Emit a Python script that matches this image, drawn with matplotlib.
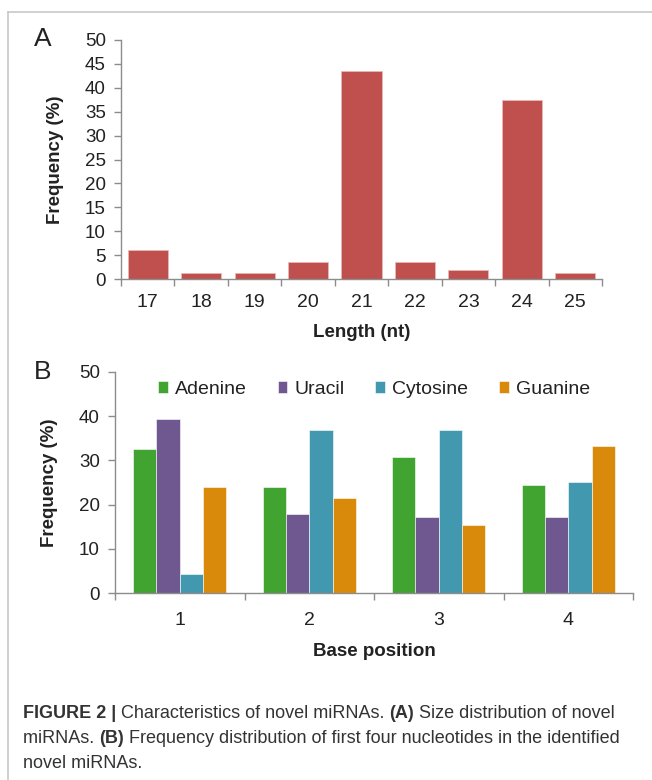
import matplotlib
matplotlib.use("Agg")
import matplotlib.pyplot as plt
import numpy as np
from matplotlib.lines import Line2D

# panel A: size distribution
lengths = ["17", "18", "19", "20", "21", "22", "23", "24", "25"]
length_freq = [6.1, 1.2, 1.2, 3.6, 43.6, 3.6, 1.9, 37.4, 1.2]

# panel B: first four nucleotides
positions = ["1", "2", "3", "4"]
adenine = [32.6, 23.9, 30.7, 24.5]
uracil = [39.3, 17.8, 17.1, 17.1]
cytosine = [4.2, 36.8, 36.8, 25.2]
guanine = [23.9, 21.5, 15.3, 33.2]

bases = ["Adenine", "Uracil", "Cytosine", "Guanine"]
base_colors = ["#41a431", "#6f588f", "#4298af", "#d98a0a"]

narrow = ["Liberation Sans Narrow", "Liberation Sans", "DejaVu Sans"]
plain = ["Liberation Sans", "DejaVu Sans"]
axis_grey = "#8c8c8c"
txt = "#222222"

fig = plt.figure(figsize=(6.52, 7.80), dpi=100)

# frame lines round the figure panel
fig.add_artist(Line2D([8 / 652, 8 / 652], [0, 1 - 12 / 780], transform=fig.transFigure,
                      color="#c8c8c8", lw=1.2))
fig.add_artist(Line2D([8 / 652, 1], [1 - 12 / 780, 1 - 12 / 780], transform=fig.transFigure,
                      color="#c8c8c8", lw=1.2))


def style_axes(ax, xpad):
    for s in ["top", "right"]:
        ax.spines[s].set_visible(False)
    for s in ["left", "bottom"]:
        ax.spines[s].set_color(axis_grey)
        ax.spines[s].set_linewidth(1.0)
    ax.tick_params(axis="y", colors=axis_grey, length=5, width=1.0, labelcolor=txt,
                   labelsize=13.5, pad=6)
    ax.tick_params(axis="x", which="major", colors=axis_grey, length=5, width=1.0)
    ax.tick_params(axis="x", which="minor", length=0, pad=xpad, labelcolor=txt)
    for lab in ax.get_yticklabels():
        lab.set_family(narrow)


# ---- panel A ----
axA = fig.add_axes([121 / 652, 1 - 279 / 780, (602 - 121) / 652, 239 / 780])
xa = np.arange(len(lengths))
axA.bar(xa, length_freq, width=0.75, color="#c0504d", edgecolor="#e8b8b6", linewidth=0.6)
axA.set_xlim(-0.5, len(lengths) - 0.5)
axA.set_ylim(0, 50)
axA.set_yticks(range(0, 51, 5))
axA.set_xticks(np.arange(-0.5, len(lengths), 1.0))
axA.set_xticklabels([])
axA.set_xticks(xa, minor=True)
axA.set_xticklabels(lengths, minor=True, family=narrow, fontsize=14, color=txt)
style_axes(axA, 11)
axA.set_ylabel("Frequency (%)", fontsize=13.5, fontweight="bold", color=txt, family=plain,
               labelpad=15)
axA.set_xlabel("Length (nt)", fontsize=13.5, fontweight="bold", color=txt, family=plain,
               labelpad=9)

# ---- panel B ----
axB = fig.add_axes([115 / 652, 1 - 593 / 780, (633 - 115) / 652, 221 / 780])
xb = np.arange(len(positions))
bw = 0.18
series = [adenine, uracil, cytosine, guanine]
for i, (name, vals, col) in enumerate(zip(bases, series, base_colors)):
    axB.bar(xb + (i - 1.5) * bw, vals, width=bw, color=col, label=name,
            edgecolor="white", linewidth=0.4)
axB.set_xlim(-0.5, len(positions) - 0.5)
axB.set_ylim(0, 50)
axB.set_yticks(range(0, 51, 10))
axB.set_xticks(np.arange(-0.5, len(positions), 1.0))
axB.set_xticklabels([])
axB.set_xticks(xb, minor=True)
axB.set_xticklabels(positions, minor=True, family=narrow, fontsize=14, color=txt)
style_axes(axB, 14)
axB.set_ylabel("Frequency (%)", fontsize=13.5, fontweight="bold", color=txt, family=plain,
               labelpad=15)
axB.set_xlabel("Base position", fontsize=13.5, fontweight="bold", color=txt, family=plain,
               labelpad=10)
leg = axB.legend(loc="upper center", ncol=4, frameon=False, bbox_to_anchor=(0.5, 1.04),
                 handlelength=0.5, handleheight=0.6, handletextpad=0.36, columnspacing=1.6,
                 prop={"family": narrow, "size": 14})
for t in leg.get_texts():
    t.set_color(txt)

# panel letters
fig.text(34 / 652, 1 - 39 / 780, "A", fontsize=19, family=narrow, color=txt,
         fontweight="light", va="center")
fig.text(34 / 652, 1 - 372 / 780, "B", fontsize=19, family=narrow, color=txt,
         fontweight="light", va="center")

# caption with bold runs, each run placed right after the previous one
cap_ax = fig.add_axes([0, 0, 1, 1])
cap_ax.axis("off")
cap_lines = [
    [("FIGURE 2 |", "bold"), (" Characteristics of novel miRNAs. ", "normal"),
     ("(A)", "bold"), (" Size distribution of novel", "normal")],
    [("miRNAs. ", "normal"), ("(B)", "bold"),
     (" Frequency distribution of first four nucleotides in the identified", "normal")],
    [("novel miRNAs.", "normal")],
]
cap_y = [718, 743, 768]
for parts, ypx in zip(cap_lines, cap_y):
    prev = None
    for s, w in parts:
        if prev is None:
            prev = cap_ax.text(23 / 652, 1 - ypx / 780, s, fontsize=13, fontweight=w,
                               family=plain, color="#333333", va="baseline",
                               transform=fig.transFigure)
        else:
            prev = cap_ax.annotate(s, xy=(1, 0), xycoords=prev, va="bottom", ha="left",
                                   fontsize=13, fontweight=w, family=plain,
                                   color="#333333", annotation_clip=False)

fig.savefig("out.png", dpi=100)
